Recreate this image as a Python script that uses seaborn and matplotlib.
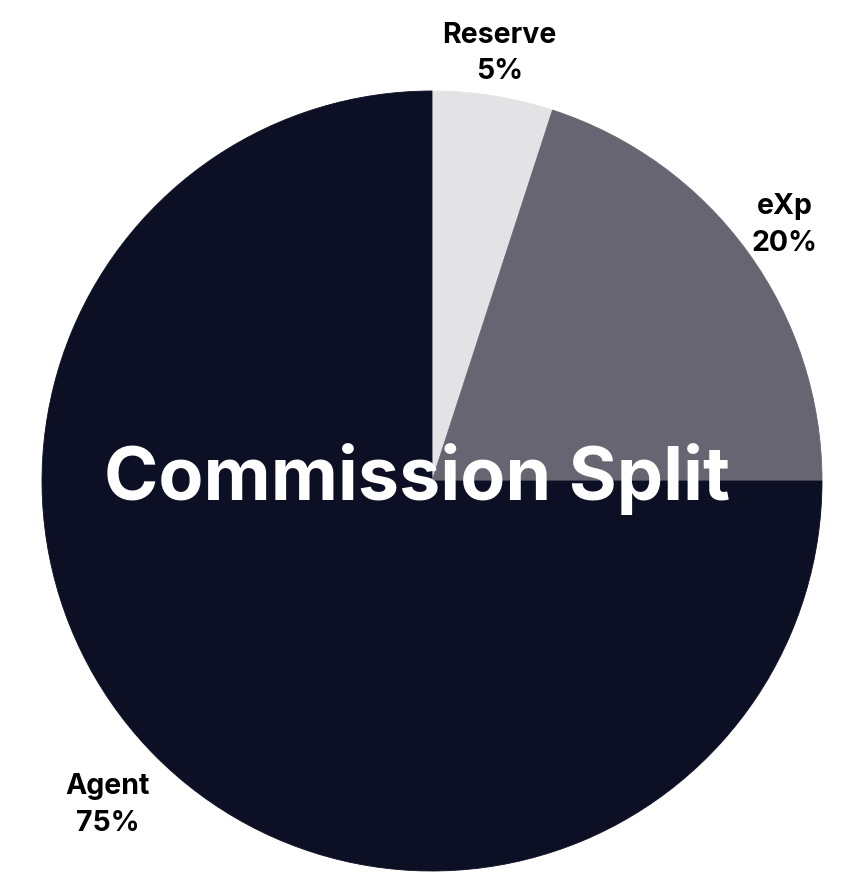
import matplotlib
matplotlib.use("Agg")
import matplotlib.pyplot as plt
import seaborn as sns
import numpy as np

# data
categories = ["Reserve", "eXp", "Agent"]
shares = [5, 20, 75]
colors = ["#e3e3e5", "#686572", "#0d1024"]
label_dist = [1.11, 1.117, 1.175]

sns.set_style("white")
plt.rcParams['font.family'] = ['Inter', 'DejaVu Sans']

fig = plt.figure(figsize=(8.45, 8.77), dpi=100)
ax = fig.add_axes([0, 0, 1, 1])

R = 390
wedges, _ = ax.pie(shares, colors=colors, startangle=90, counterclock=False,
                   radius=R, center=(0, 0), frame=True,
                   wedgeprops=dict(linewidth=0.6))
for w in wedges:
    w.set_edgecolor(w.get_facecolor())

for w, name, val, d in zip(wedges, categories, shares, label_dist):
    mid = np.deg2rad((w.theta1 + w.theta2) / 2)
    ax.text(d * R * np.cos(mid), d * R * np.sin(mid), f"{name}\n{val}%",
            ha="center", va="center", fontsize=20.5, fontweight="bold",
            linespacing=1.45, color="#000000")

ax.text(-15, -19, "Commission Split", ha="center", va="baseline",
        fontsize=53, fontweight="bold", color="white")

ax.set_xlim(-432, 845 - 432)
ax.set_ylim(-(877 - 481), 481)
ax.set_aspect("equal")
ax.axis("off")

fig.savefig("out.png", dpi=100)
